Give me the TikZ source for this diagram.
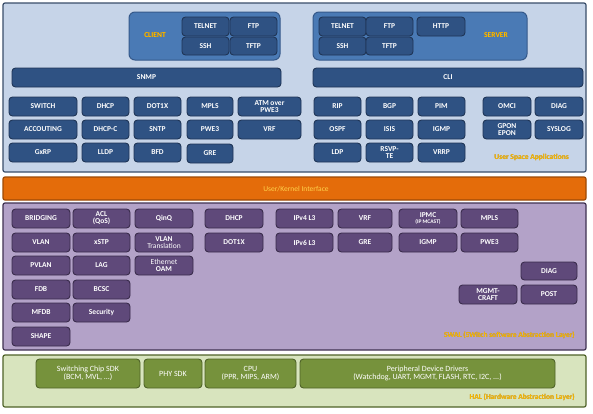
\documentclass[tikz,border=0pt]{standalone}
\usepackage{fontspec}
\setmainfont{Carlito}
\usepackage[outline]{contour}
\contourlength{0.45pt}
\definecolor{upbg}{HTML}{C6D4E8}
\definecolor{upbd}{HTML}{3A4E6A}
\definecolor{ubox}{HTML}{2F5283}
\definecolor{uboxbd}{HTML}{1F3556}
\definecolor{grp}{HTML}{4A7AB5}
\definecolor{grpbd}{HTML}{35598A}
\definecolor{ifbg}{HTML}{E46C0A}
\definecolor{ifbd}{HTML}{9C4A06}
\definecolor{swbg}{HTML}{B3A2C8}
\definecolor{swbd}{HTML}{3F3151}
\definecolor{sbox}{HTML}{5F497A}
\definecolor{sboxbd}{HTML}{3A2C4C}
\definecolor{hlbg}{HTML}{D8E4BE}
\definecolor{hlbd}{HTML}{4F6228}
\definecolor{hbox}{HTML}{76923C}
\definecolor{hboxbd}{HTML}{4F6228}
\definecolor{lbl}{HTML}{FFC000}
\definecolor{lblsh}{HTML}{9A6A20}
\definecolor{lblif}{HTML}{FFD24A}
\newcommand\bx[7]{\node[#1, minimum width={(#5-#3)*1pt}, minimum height={(#6-#4)*1pt}] (#2) at ({(#3+#5)/2},{(#4+#6)/2}) {#7};}
\newcommand\glow[1]{\contour{lblsh}{#1}}
\tikzset{
  panel/.style={draw, line width=1.2pt, rounded corners=2pt, inner sep=0pt},
  upanel/.style={panel, fill=upbg, draw=upbd},
  ifpanel/.style={panel, fill=ifbg, draw=ifbd},
  swpanel/.style={panel, fill=swbg, draw=swbd},
  hlpanel/.style={panel, fill=hlbg, draw=hlbd},
  grpbox/.style={draw=grpbd, fill=grp, line width=1pt, rounded corners=6pt, inner sep=0pt},
  boxbase/.style={draw, line width=0.9pt, rounded corners=3.5pt, inner sep=0pt, align=center, text=white, font=\bfseries\fontsize{7.5}{6.8}\selectfont},
  ub/.style={boxbase, fill=ubox, draw=uboxbd},
  sb/.style={boxbase, fill=sbox, draw=sboxbd},
  hb/.style={boxbase, fill=hbox, draw=hboxbd, font=\fontsize{8}{8.5}\selectfont},
  lab/.style={text=lbl, font=\bfseries\fontsize{7.5}{7.5}\selectfont, inner sep=0pt},
}
\begin{document}
\begin{tikzpicture}[x=1pt, y=-1pt]
\fill[white] (0,0) rectangle (593,413);
\useasboundingbox (0,0) rectangle (593,413);
% panels
\bx{upanel}{user}{3}{3}{586}{172}{}
\bx{ifpanel}{uki}{3}{177}{586}{200}{}
\bx{swpanel}{swal}{3}{203}{586}{350}{}
\bx{hlpanel}{hal}{3}{355}{586}{407}{}
% client / server groups
\bx{grpbox}{client}{129}{12}{280}{60}{}
\bx{grpbox}{server}{313}{12}{527}{60}{}
\node[lab] (clientlbl) at (155,35) {\glow{CLIENT}};
\node[lab] (serverlbl) at (496,35) {\glow{SERVER}};
\bx{ub}{ctelnet}{182}{17}{229}{36}{TELNET}
\bx{ub}{cftp}{230}{17}{277}{36}{FTP}
\bx{ub}{cssh}{182}{37}{229}{55}{SSH}
\bx{ub}{ctftp}{230}{37}{277}{55}{TFTP}
\bx{ub}{stelnet}{319}{17}{366}{36}{TELNET}
\bx{ub}{sftp}{366}{17}{413}{36}{FTP}
\bx{ub}{shttp}{417}{17}{465}{36}{HTTP}
\bx{ub}{sssh}{319}{37}{366}{55}{SSH}
\bx{ub}{stftp}{366}{37}{413}{55}{TFTP}
\bx{ub}{snmp}{12}{68}{281}{87}{SNMP}
\bx{ub}{cli}{313}{68}{583}{87}{CLI}
% user apps
\bx{ub}{switch}{9}{97}{77}{116}{SWITCH}
\bx{ub}{dhcp}{82}{97}{129}{116}{DHCP}
\bx{ub}{dotx}{134}{97}{181}{116}{DOT1X}
\bx{ub}{mpls}{187}{97}{233}{116}{MPLS}
\bx{ub}{atm}{238}{97}{301}{116}{ATM over\\PWE3}
\bx{ub}{accouting}{9}{120}{77}{139}{ACCOUTING}
\bx{ub}{dhcpc}{82}{120}{129}{139}{DHCP-C}
\bx{ub}{sntp}{134}{120}{181}{139}{SNTP}
\bx{ub}{pwe}{187}{120}{233}{139}{PWE3}
\bx{ub}{vrf}{238}{120}{301}{139}{VRF}
\bx{ub}{gxrp}{9}{143}{77}{162}{GxRP}
\bx{ub}{lldp}{82}{143}{129}{162}{LLDP}
\bx{ub}{bfd}{134}{143}{181}{162}{BFD}
\bx{ub}{gre}{187}{144}{233}{163}{GRE}
\bx{ub}{rip}{314}{97}{361}{116}{RIP}
\bx{ub}{bgp}{366}{97}{413}{116}{BGP}
\bx{ub}{pim}{418}{97}{465}{116}{PIM}
\bx{ub}{omci}{483}{97}{531}{116}{OMCI}
\bx{ub}{diag}{535}{97}{583}{116}{DIAG}
\bx{ub}{ospf}{314}{120}{361}{139}{OSPF}
\bx{ub}{isis}{366}{120}{413}{139}{ISIS}
\bx{ub}{igmp}{418}{120}{465}{139}{IGMP}
\bx{ub}{gpon}{483}{120}{531}{139}{GPON\\EPON}
\bx{ub}{syslog}{535}{120}{583}{139}{SYSLOG}
\bx{ub}{ldp}{314}{143}{361}{162}{LDP}
\bx{ub}{rsvp}{366}{143}{413}{162}{RSVP-\\TE}
\bx{ub}{vrrp}{418}{143}{465}{162}{VRRP}
\node[lab, anchor=east] (uslbl) at (569,157) {\glow{User Space Applications}};
% interface
\node[lab, text=lblif, font=\fontsize{7.5}{7.5}\selectfont] (ukilbl) at (296,189) {User/Kernel Interface};
% SWAL boxes
\bx{sb}{bridging}{12}{209}{70}{228}{BRIDGING}
\bx{sb}{acl}{73}{209}{130}{228}{ACL\\(QoS)}
\bx{sb}{qinq}{135}{209}{193}{228}{QinQ}
\bx{sb}{wdhcp}{205}{209}{263}{228}{DHCP}
\bx{sb}{ipv4}{276}{209}{333}{228}{IPv4 L3}
\bx{sb}{wvrf}{338}{209}{392}{228}{VRF}
\bx{sb}{ipmc}{399}{209}{457}{228}{IPMC\\{\fontsize{5.5}{5.5}\selectfont(IP MCAST)}}
\bx{sb}{wmpls}{461}{209}{518}{228}{MPLS}
\bx{sb}{vlan}{12}{233}{70}{252}{VLAN}
\bx{sb}{xstp}{73}{233}{130}{252}{xSTP}
\bx{sb}{vlantr}{135}{233}{193}{252}{VLAN\\{\mdseries Translation}}
\bx{sb}{wdotx}{205}{233}{263}{252}{DOT1X}
\bx{sb}{ipv6}{276}{233}{333}{252}{IPv6 L3}
\bx{sb}{wgre}{338}{233}{392}{252}{GRE}
\bx{sb}{wigmp}{399}{233}{457}{252}{IGMP}
\bx{sb}{wpwe}{461}{233}{518}{252}{PWE3}
\bx{sb}{pvlan}{12}{256}{70}{275}{PVLAN}
\bx{sb}{lag}{73}{256}{130}{275}{LAG}
\bx{sb}{eoam}{135}{256}{193}{275}{{\mdseries Ethernet}\\OAM}
\bx{sb}{wdiag}{521}{262}{577}{280}{DIAG}
\bx{sb}{fdb}{12}{280}{70}{299}{FDB}
\bx{sb}{bcsc}{73}{280}{130}{299}{BCSC}
\bx{sb}{mgmt}{459}{285}{517}{304}{MGMT-\\CRAFT}
\bx{sb}{post}{521}{285}{577}{304}{POST}
\bx{sb}{mfdb}{12}{303}{70}{322}{MFDB}
\bx{sb}{security}{73}{303}{130}{322}{Security}
\bx{sb}{shape}{12}{327}{70}{346}{SHAPE}
\node[lab, anchor=east] (swallbl) at (575,335) {\glow{SWAL (SWitch software Abstraction Layer)}};
% HAL boxes
\bx{hb}{swchip}{36}{359}{140}{388}{Switching Chip SDK\\(BCM, MVL, ...)}
\bx{hb}{phy}{144}{359}{202}{388}{PHY SDK}
\bx{hb}{cpu}{205}{359}{296}{388}{CPU\\(PPR, MIPS, ARM)}
\bx{hb}{periph}{300}{359}{555}{388}{Peripheral Device Drivers\\(Watchdog, UART, MGMT, FLASH, RTC, I2C, ...)}
\node[lab, anchor=east] (hallbl) at (575,397) {\glow{HAL (Hardware Abstraction Layer)}};
\end{tikzpicture}
\end{document}
